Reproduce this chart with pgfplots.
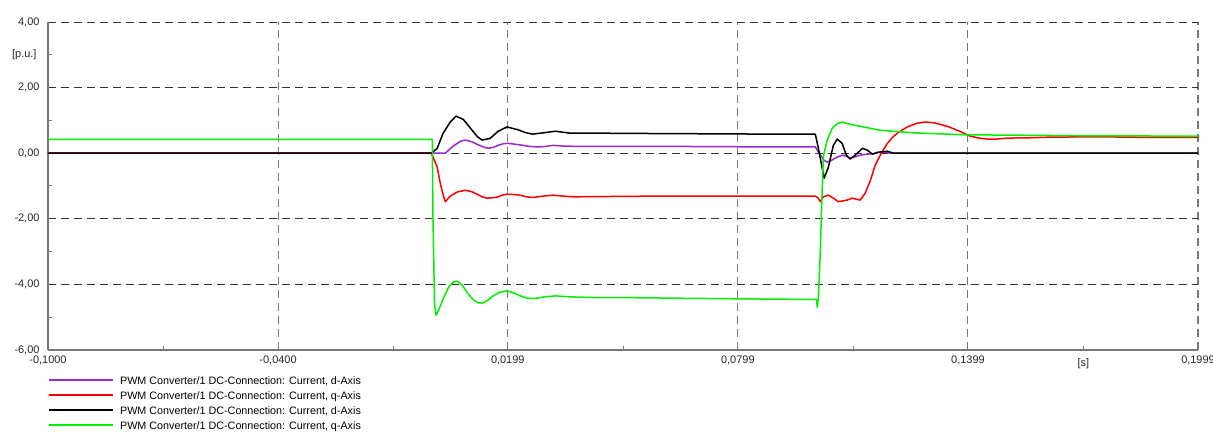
\documentclass[border=0pt]{standalone}
\usepackage{pgfplots}
\pgfplotsset{compat=1.18}
\usepackage{fontspec}
\setmainfont{Liberation Sans}
\definecolor{cpurple}{RGB}{153,40,210}
\definecolor{cred}{RGB}{255,0,0}
\definecolor{cgreen}{RGB}{0,240,0}
\definecolor{cgrid}{RGB}{120,120,120}
\begin{document}
\begin{tikzpicture}
\begin{axis}[
  scale only axis, width=1150bp, height=328bp,
  xmin=-0.1, xmax=0.1999, ymin=-6, ymax=4,
  axis x line*=bottom, axis y line*=left,
  axis line style={draw=cgrid, line width=1.2bp, -},
  xtick={-0.1,-0.04,0.0199,0.0799,0.1399,0.1999},
  xticklabels={{-0,1000},{-0,0400},{0,0199},{0,0799},{0,1399},{0,1999}},
  minor xtick={-0.07,-0.01,0.05,0.11,0.17},
  ytick={-6,-4,-2,0,2,4},
  yticklabels={{-6,00},{-4,00},{-2,00},{0,00},{2,00},{4,00}},
  minor ytick={-5,-3,-1,1,3},
  tick align=inside,
  major tick length=0pt, minor tick length=4bp,
  tick style={draw=cgrid, line width=1bp},
  grid=major,
  x grid style={draw=cgrid, line width=1.1bp, dash pattern=on 8bp off 5bp},
  y grid style={draw=black!80, line width=0.8bp, dash pattern=on 8bp off 5bp},
  tick label style={font=\fontsize{11}{12}\selectfont, text=black!85},
  yticklabel style={xshift=-5bp},
  xticklabel style={yshift=-2bp},
  clip=false,
  legend style={at={(0,-0.0686)}, anchor=north west, draw=none, fill=none,
    inner sep=0pt, font=\fontsize{10.8}{12}\selectfont,
    nodes={inner sep=0pt, minimum height=15bp, text depth=0pt},
    cells={anchor=west}},
  legend cell align=left,
  legend image code/.code={\draw[#1, line width=2.4bp] (0bp,0bp) -- (64bp,0bp); \path (70bp,0bp);},
  every axis plot/.append style={line width=1.5bp, line join=round},
]
% purple: d-Axis
\addplot[cpurple] coordinates {
(-0.1,0) (0.0,0) (0.0036,0) (0.0057,0.22) (0.0075,0.36) (0.0088,0.40) (0.0105,0.35)
(0.0119,0.27) (0.0135,0.19) (0.0148,0.15) (0.0162,0.18) (0.0174,0.24) (0.0188,0.29)
(0.0200,0.30) (0.0220,0.27) (0.0239,0.24) (0.0260,0.20) (0.0284,0.19) (0.0300,0.21)
(0.0317,0.24) (0.0340,0.22) (0.0370,0.21) (0.0570,0.21) (0.0910,0.19) (0.1001,0.19)
(0.1014,-0.06) (0.1024,-0.22) (0.1032,-0.27) (0.1043,-0.22) (0.1053,-0.15) (0.1064,-0.09)
(0.1074,-0.06) (0.1083,-0.10) (0.1092,-0.15) (0.1105,-0.11) (0.1118,-0.06) (0.1135,-0.03)
(0.1152,-0.01) (0.1178,0.04) (0.1197,0) (0.1999,0)
};
\addlegendentry{PWM Converter/1 DC-Connection: Current, d-Axis}
% red: q-Axis
\addplot[cred] coordinates {
(-0.1,0) (0.0,0) (0.0015,-0.43) (0.0023,-0.92) (0.0030,-1.25) (0.0036,-1.48)
(0.0049,-1.31) (0.0068,-1.18) (0.0088,-1.13) (0.0104,-1.17) (0.0119,-1.25) (0.0132,-1.33)
(0.0145,-1.37) (0.0158,-1.36) (0.0171,-1.34) (0.0185,-1.28) (0.0197,-1.25) (0.0214,-1.26)
(0.0231,-1.28) (0.0248,-1.33) (0.0265,-1.35) (0.0290,-1.31) (0.0317,-1.28) (0.0345,-1.31)
(0.0370,-1.33) (0.0570,-1.31) (0.0910,-1.31) (0.1001,-1.31) (0.1008,-1.36) (0.1014,-1.48)
(0.1022,-1.33) (0.1035,-1.28) (0.1048,-1.37) (0.1061,-1.48) (0.1084,-1.43) (0.1097,-1.37)
(0.1118,-1.43) (0.1131,-1.22) (0.1144,-0.85) (0.1157,-0.37) (0.1173,0.0) (0.1189,0.30)
(0.1202,0.48) (0.1215,0.61) (0.1241,0.80) (0.1265,0.91) (0.1288,0.95) (0.1308,0.93)
(0.1327,0.88) (0.1350,0.80) (0.1371,0.70) (0.1388,0.61) (0.1405,0.52) (0.1428,0.46)
(0.1450,0.43) (0.1475,0.43) (0.1502,0.46) (0.1562,0.47) (0.1614,0.49) (0.1744,0.50)
(0.1875,0.48) (0.1999,0.48)
};
\addlegendentry{PWM Converter/1 DC-Connection: Current, q-Axis}
% black: d-Axis
\addplot[black] coordinates {
(-0.1,0) (0.0,0) (0.0015,0.15) (0.0030,0.60) (0.0049,0.95) (0.0064,1.13) (0.0083,1.03)
(0.0106,0.70) (0.0120,0.50) (0.0132,0.40) (0.0153,0.45) (0.0174,0.67) (0.0197,0.80)
(0.0224,0.72) (0.0245,0.63) (0.0263,0.58) (0.0291,0.62) (0.0323,0.67) (0.0362,0.61)
(0.0440,0.61) (0.0570,0.60) (0.0910,0.58) (0.1001,0.58) (0.1009,0.15) (0.1019,-0.46)
(0.1024,-0.76) (0.1035,-0.43) (0.1048,0.24) (0.1058,0.43) (0.1071,0.30) (0.1082,-0.06)
(0.1092,-0.18) (0.1105,-0.06) (0.1124,0.15) (0.1137,0.09) (0.1150,-0.03) (0.1165,0.03)
(0.1189,0.06) (0.1204,0) (0.1999,0)
};
\addlegendentry{PWM Converter/1 DC-Connection: Current, d-Axis}
% green: q-Axis
\addplot[cgreen] coordinates {
(-0.1,0.42) (0.0002,0.42) (0.0004,-2.0) (0.0008,-4.6) (0.0012,-4.94) (0.0020,-4.75)
(0.0032,-4.40) (0.0045,-4.08) (0.0057,-3.93) (0.0067,-3.90) (0.0080,-4.02) (0.0095,-4.28)
(0.0110,-4.48) (0.0122,-4.56) (0.0132,-4.57) (0.0145,-4.50) (0.0160,-4.36) (0.0178,-4.24)
(0.0197,-4.20) (0.0215,-4.26) (0.0232,-4.35) (0.0250,-4.42) (0.0270,-4.43) (0.0295,-4.38)
(0.0323,-4.35) (0.0360,-4.38) (0.0420,-4.40) (0.0484,-4.40) (0.0630,-4.42) (0.0800,-4.44)
(0.0902,-4.45) (0.1004,-4.46) (0.1006,-4.70) (0.1009,-4.40) (0.1014,-3.0) (0.1019,-1.1)
(0.1022,-0.1) (0.1032,0.40) (0.1045,0.76) (0.1058,0.90) (0.1071,0.95) (0.1092,0.88)
(0.1126,0.80) (0.1170,0.70) (0.1257,0.62) (0.1345,0.58) (0.1397,0.56) (0.1517,0.55)
(0.1700,0.53) (0.1999,0.52)
};
\addlegendentry{PWM Converter/1 DC-Connection: Current, q-Axis}
\node[anchor=east, font=\fontsize{11}{12}\selectfont, text=black!85, xshift=-8bp] at (axis cs:-0.1,3) {[p.u.]};
\node[anchor=north, font=\fontsize{11}{12}\selectfont, text=black!85, yshift=-5bp] at (axis cs:0.17,-6) {[s]};
\coordinate (bl) at (rel axis cs:0,0);
\coordinate (tr) at (rel axis cs:1,1);
\end{axis}
\pgfresetboundingbox
\path[use as bounding box] ([xshift=-48bp,yshift=-84bp]bl) rectangle ([xshift=15bp,yshift=22bp]tr);
\end{tikzpicture}
\end{document}
